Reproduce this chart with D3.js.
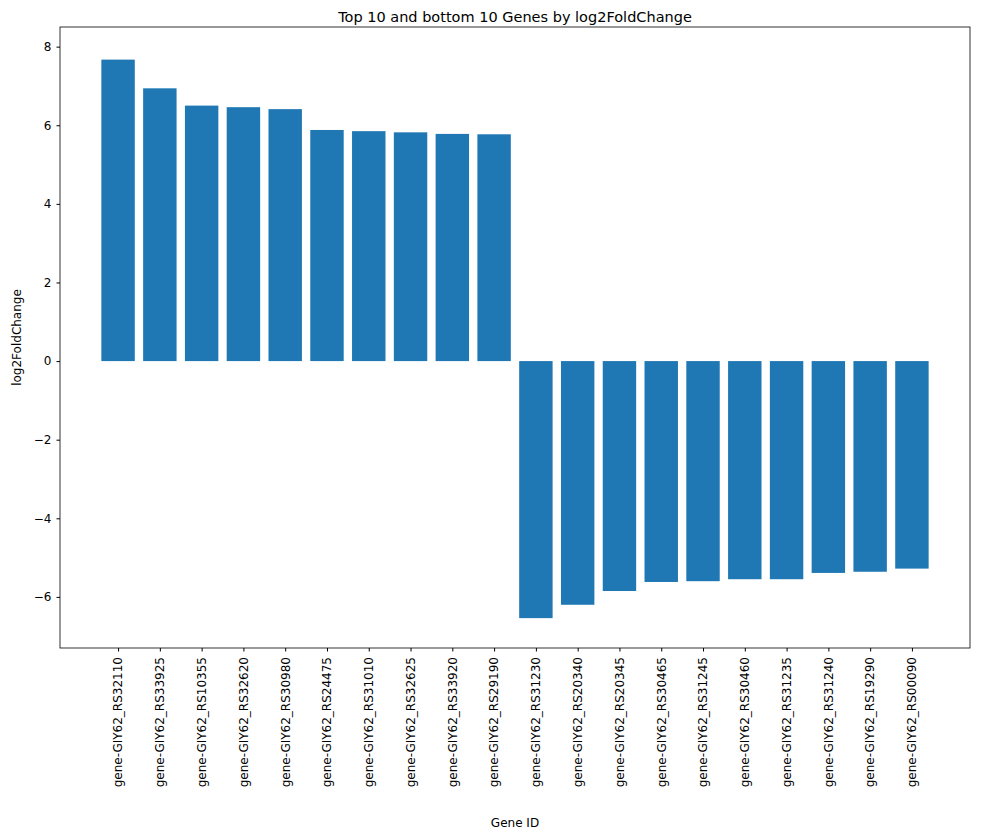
<!DOCTYPE html>
<html><head><meta charset="utf-8">
<script src="https://cdn.jsdelivr.net/npm/d3@7"></script>
<style>body{margin:0;background:#fff}text{font-family:"DejaVu Sans",sans-serif}</style>
</head><body><svg id="c" width="999" height="837"></svg>
<script>
const genes=["gene-GIY62_RS32110","gene-GIY62_RS33925","gene-GIY62_RS10355","gene-GIY62_RS32620","gene-GIY62_RS30980","gene-GIY62_RS24475","gene-GIY62_RS31010","gene-GIY62_RS32625","gene-GIY62_RS33920","gene-GIY62_RS29190","gene-GIY62_RS31230","gene-GIY62_RS20340","gene-GIY62_RS20345","gene-GIY62_RS30465","gene-GIY62_RS31245","gene-GIY62_RS30460","gene-GIY62_RS31235","gene-GIY62_RS31240","gene-GIY62_RS19290","gene-GIY62_RS00090"];
const values=[7.67,6.94,6.5,6.46,6.41,5.88,5.85,5.82,5.78,5.77,-6.54,-6.2,-5.85,-5.62,-5.6,-5.55,-5.55,-5.39,-5.36,-5.28];
const yTicks=[-6,-4,-2,0,2,4,6,8];
const svg=d3.select("#c");
const L=60,R=970,T=27,B=648;
const n=genes.length;
const x=d3.scaleLinear().domain([-0.4-0.99,n-1+0.4+0.99]).range([L,R]);
const y=d3.scaleLinear().domain([-7.3,8.5]).range([B,T]);
svg.selectAll("rect.bar").data(values).join("rect").attr("class","bar")
 .attr("x",(d,i)=>x(i-0.4)).attr("width",x(0.8)-x(0))
 .attr("y",d=>y(Math.max(0,d))).attr("height",d=>Math.abs(y(d)-y(0)))
 .attr("fill","#1f77b4");
svg.append("rect").attr("x",L).attr("y",T).attr("width",R-L).attr("height",B-T).attr("fill","none").attr("stroke","#000").attr("stroke-width",0.8);
const ya=svg.append("g").attr("transform",`translate(${L},0)`).call(d3.axisLeft(y).tickValues(yTicks).tickSize(3.5).tickPadding(5).tickFormat(d=>d<0?"\u2212"+Math.abs(d):d));
const xa=svg.append("g").attr("transform",`translate(0,${B})`).call(d3.axisBottom(x).tickValues(d3.range(n)).tickSize(3.5).tickFormat(i=>genes[i]));
[ya,xa].forEach(a=>{a.select(".domain").remove();a.selectAll("text").attr("font-size",12).attr("fill","#000");a.selectAll("line").attr("stroke","#000");});
xa.selectAll("text").attr("transform","rotate(-90)").attr("text-anchor","end").attr("dx","-0.5em").attr("dy","-0.3em").attr("x",-3).attr("y",0).attr("dy","0.32em");
svg.append("text").attr("x",(L+R)/2).attr("y",22).attr("text-anchor","middle").attr("font-size",14.5).text("Top 10 and bottom 10 Genes by log2FoldChange");
svg.append("text").attr("x",(L+R)/2).attr("y",827).attr("text-anchor","middle").attr("font-size",12).text("Gene ID");
svg.append("text").attr("transform",`translate(21,${(T+B)/2}) rotate(-90)`).attr("text-anchor","middle").attr("font-size",12).text("log2FoldChange");
</script></body></html>
